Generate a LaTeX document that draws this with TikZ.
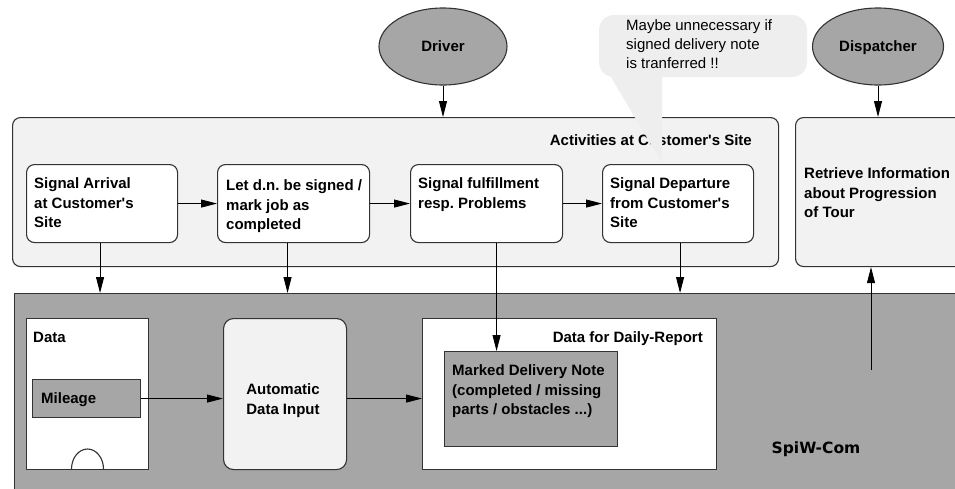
\documentclass[tikz,border=0pt]{standalone}
\usepackage{fontspec}
\setmainfont{Liberation Sans}
\newfontfamily\spiwfont{DejaVu Sans}
\usetikzlibrary{arrows.meta,shapes.geometric}
\definecolor{frameline}{HTML}{333333}
\definecolor{lightfill}{HTML}{F2F2F2}
\definecolor{midgray}{HTML}{A6A6A6}
\definecolor{notefill}{HTML}{EEEEEE}
\newcommand{\apos}{\textquotesingle}
\begin{document}
\frenchspacing
\begin{tikzpicture}[x=1pt,y=-1pt,
  box/.style={draw=frameline, line width=1.1pt, anchor=north west, inner sep=0pt},
  rbox/.style={box, rounded corners=8pt},
  txt/.style={font=\fontsize{15}{19.5}\selectfont\bfseries, align=left, inner sep=0pt},
  ntxt/.style={font=\fontsize{15}{19}\selectfont, align=left, inner sep=0pt},
  arr/.style={-{Triangle[length=16pt,width=8pt]}, line width=0.9pt},
  ell/.style={ellipse, draw=frameline, line width=1.1pt, fill=midgray, inner sep=0pt,
    minimum height=77pt, text depth=0pt, font=\fontsize{15}{18}\selectfont\bfseries}
]
\useasboundingbox (0,0) rectangle (955,488);
\clip (0,0) rectangle (955,488);
\fill[white] (0,0) rectangle (955,488);

% actors
\node[ell, minimum width=128pt] (driver) at (443,46.5) {Driver};
\node[ell, minimum width=131pt] (dispatcher) at (878,46.5) {Dispatcher};

% activities frame
\node[rbox, fill=lightfill, minimum width=766pt, minimum height=149pt] (act) at (12,117) {};
\node[txt, anchor=north east] (acttitle) at (752,134.5) {Activities at Customer\apos s Site};

% retrieve box
\node[rbox, fill=lightfill, minimum width=180pt, minimum height=149pt] (ret) at (795,117) {};
\node[txt, anchor=north west] (rettxt) at (804,167.5) {Retrieve Information\\about Progression\\of Tour};

% activity boxes
\node[rbox, fill=white, minimum width=151pt, minimum height=78pt] (b1) at (26,164) {};
\node[rbox, fill=white, minimum width=152pt, minimum height=78pt] (b2) at (217,164) {};
\node[rbox, fill=white, minimum width=152pt, minimum height=78pt] (b3) at (410,164) {};
\node[rbox, fill=white, minimum width=151pt, minimum height=78pt] (b4) at (602,164) {};
\node[txt, anchor=north west] (t1) at (34,177.5) {Signal Arrival\\at Customer\apos s\\Site};
\node[txt, anchor=north west] (t2) at (226,179.5) {Let d.n. be signed /\\mark job as\\completed};
\node[txt, anchor=north west] (t3) at (418,177.5) {Signal fulfillment\\resp. Problems};
\node[txt, anchor=north west] (t4) at (610,177.5) {Signal Departure\\from Customer\apos s\\Site};

% callout
\fill[notefill, rounded corners=15pt] (599,15) rectangle (807,77);
\fill[notefill] (602,62) -- (662,62) -- (662,163) -- cycle;
\node[ntxt, anchor=north west] (note) at (626,19.5) {Maybe unnecessary if\\signed delivery note\\is tranferred !!};

% SpiW-Com
\node[box, fill=midgray, minimum width=960pt, minimum height=210pt] (spiw) at (14,293) {};
\node[box, fill=white, minimum width=122pt, minimum height=151pt] (data) at (26,318) {};
\node[txt, anchor=north west] (datatxt) at (33,331.5) {Data};
\node[box, fill=midgray, minimum width=108pt, minimum height=38pt] (mileage) at (32,379) {};
\node[txt, anchor=north west] (miletxt) at (41,392.5) {Mileage};
\draw[frameline, line width=1.1pt] (71.5,469) arc[start angle=180, end angle=0, x radius=16pt, y radius=20pt];

\node[box, rounded corners=10pt, fill=lightfill, minimum width=123pt, minimum height=151pt] (auto) at (223,318) {};
\node[txt, align=center, anchor=north] (autotxt) at (283,383.5) {Automatic\\Data Input};

\node[box, fill=white, minimum width=294pt, minimum height=151pt] (daily) at (422,318) {};
\node[txt, anchor=north east] (dailytxt) at (703,331.5) {Data for Daily-Report};
\node[box, fill=midgray, minimum width=173pt, minimum height=95pt] (marked) at (444,351) {};
\node[txt, anchor=north west] (markedtxt) at (452,364.5) {Marked Delivery Note\\(completed / missing\\parts / obstacles ...)};

\node[font=\spiwfont\fontsize{15.5}{18}\selectfont\bfseries, inner sep=0pt, text depth=0pt] (spiwtxt) at (816,448) {SpiW-Com};

% connectors
\draw[arr] (driver.south) -- (driver.south |- act.north);
\draw[arr] (dispatcher.south) -- (dispatcher.south |- ret.north);
\draw[arr] (b1.east) -- (b2.west);
\draw[arr] (b2.east) -- (b3.west);
\draw[arr] (b3.east) -- (b4.west);
\draw[arr] ([xshift=-2pt]b1.south) -- ([xshift=-2pt]b1.south |- spiw.north);
\draw[arr] ([xshift=-6pt]b2.south) -- ([xshift=-6pt]b2.south |- spiw.north);
\draw[arr] ([xshift=10pt]b3.south) -- ([xshift=10pt]b3.south |- marked.north);
\draw[arr] ([xshift=2pt]b4.south) -- ([xshift=2pt]b4.south |- spiw.north);
\draw[arr] (mileage.east) -- (mileage.east -| auto.west);
\draw[arr] (auto.east |- mileage.east) -- (daily.west |- mileage.east);
\coordinate (upstart) at (871,370);
\draw[arr] (upstart) -- (upstart |- ret.south);
\end{tikzpicture}
\end{document}
